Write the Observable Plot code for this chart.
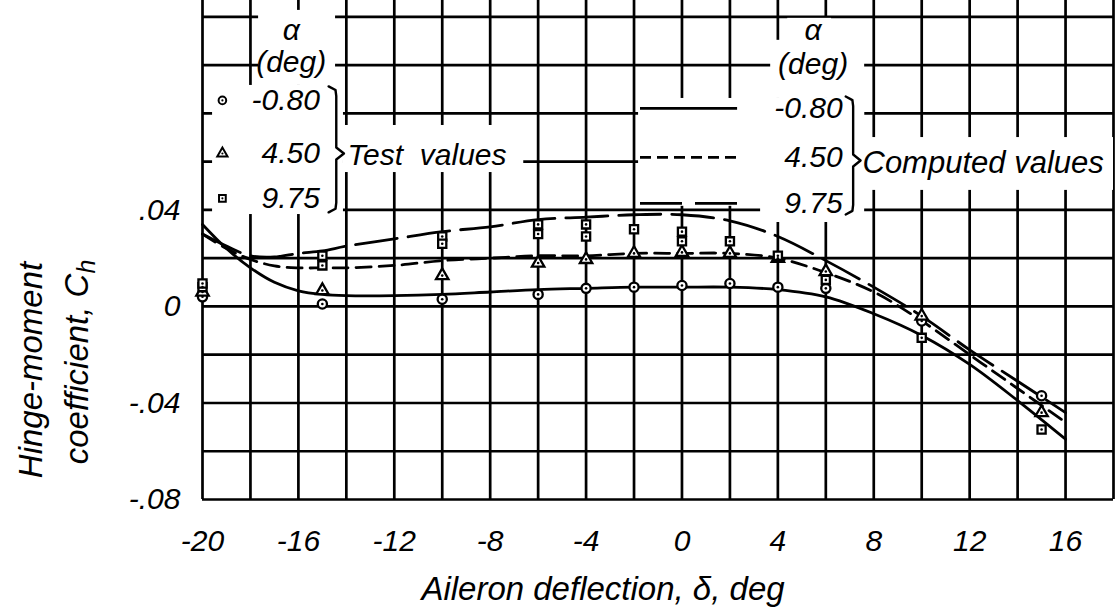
<!DOCTYPE html>
<html><head><meta charset="utf-8">
<script src="https://cdn.jsdelivr.net/npm/d3@7"></script>
<script src="https://cdn.jsdelivr.net/npm/@observablehq/plot@0.6"></script>
<style>
body{margin:0;background:#fff;}
#chart{width:1118px;height:612px;overflow:hidden;}
</style></head><body><div id="chart"></div>
<script>
// ---------- data ----------
const alphas = ["-0.80", "4.50", "9.75"];
const deltaTest = [-20, -15, -10, -6, -4, -2, 0, 2, 4, 6, 10, 15];
const testCircle   = [0.004, 0.001, 0.003, 0.005, 0.0075, 0.008, 0.0087, 0.0095, 0.008, 0.0075, -0.006, -0.037];
const testTriangle = [0.006, 0.0066, 0.0128, 0.018, 0.0195, 0.022, 0.0224, 0.022, 0.020, 0.0145, -0.004, -0.044];
const testSquare   = [0.008, 0.021, 0.029, 0.034, 0.034, 0.032, 0.031, 0.027, 0.021, 0.011, -0.013, -0.051];
const deltaSquareRepeat = [-20, -15, -10, -6, -4, 0];
const squareRepeat      = [0.0095, 0.017, 0.026, 0.030, 0.029, 0.027];

const deltaCurve = [-20, -19, -18, -17, -16, -15, -14, -12, -10, -8, -6, -4, -2, 0, 2, 4, 6, 8, 10, 12, 14, 16];
const curveM080 = [0.034, 0.024, 0.016, 0.010, 0.0065, 0.005, 0.0045, 0.0045, 0.005, 0.006, 0.007, 0.0075, 0.008, 0.008, 0.008, 0.007, 0.004, -0.003, -0.012, -0.024, -0.039, -0.055];
const curve450  = [0.030, 0.024, 0.0195, 0.0168, 0.016, 0.016, 0.016, 0.017, 0.019, 0.020, 0.021, 0.021, 0.022, 0.022, 0.022, 0.020, 0.014, 0.006, -0.006, -0.020, -0.034, -0.048];
const curve975  = [0.030, 0.025, 0.021, 0.0205, 0.022, 0.023, 0.025, 0.028, 0.031, 0.033, 0.036, 0.037, 0.038, 0.038, 0.0355, 0.029, 0.019, 0.008, -0.004, -0.018, -0.031, -0.044];

const xGrid = [-20, -18, -16, -14, -12, -10, -8, -6, -4, -2, 0, 2, 4, 6, 8, 10, 12, 14, 16, 18];
const yGrid = [-0.08, -0.06, -0.04, -0.02, 0, 0.02, 0.04, 0.06, 0.08, 0.10, 0.12];
const xTicks = [-20, -16, -12, -8, -4, 0, 4, 8, 12, 16];
const xTickLabels = ["-20", "-16", "-12", "-8", "-4", "0", "4", "8", "12", "16"];
const yTicks = [-0.08, -0.04, 0, 0.04];
const yTickLabels = ["-.08", "-.04", "0", ".04"];
const xTitle = "Aileron deflection, δ, deg";
const yTitleLines = ["Hinge-moment", "coefficient, C", "h"];
const legendHeader = ["α", "(deg)"];
const testLabel = "Test  values";
const computedLabel = "Computed values";

// ---------- tables built from the arrays ----------
const testRows = [];
deltaTest.forEach((d, i) => {
  testRows.push({d, c: testCircle[i], a: alphas[0]});
  testRows.push({d, c: testTriangle[i], a: alphas[1]});
  testRows.push({d, c: testSquare[i], a: alphas[2]});
});
deltaSquareRepeat.forEach((d, i) => testRows.push({d, c: squareRepeat[i], a: alphas[2]}));
const curveRows = (vals) => deltaCurve.map((d, i) => ({d, c: vals[i]}));

const FONT = "'Liberation Sans', 'DejaVu Sans', Arial, sans-serif";
const FS = 30;

// legend layout (data coordinates of the chart)
const legLeft = {mx: -19.17, labelX: -15.1, alphaX: -16.3, ys: [0.0854, 0.0634, 0.0448]};
const legRight = {x1: -1.73, x2: 2.32, labelX: 6.70, alphaX: 5.47, ys: [0.0821, 0.0618, 0.0427]};
const legendSymbolRows = alphas.map((a, i) => ({d: legLeft.mx, c: legLeft.ys[i], a}));

function bracket(x, top, bot, mid, tip) {
  const w = (tip - x);
  return [
    {d: x, c: top}, {d: x + w * 0.45, c: top - 0.0015}, {d: x + w * 0.5, c: top - 0.004},
    {d: x + w * 0.5, c: mid + 0.0025}, {d: tip, c: mid},
    {d: x + w * 0.5, c: mid - 0.0025}, {d: x + w * 0.5, c: bot + 0.004},
    {d: x + w * 0.45, c: bot + 0.0015}, {d: x, c: bot}
  ];
}

const patches = [
  {x1: -17.66, x2: -14.45, y1: 0.0916, y2: 0.1227},
  {x1: -19.58, x2: -14.12, y1: 0.0381, y2: 0.0916},
  {x1: -14.12, x2: -6.6, y1: 0.0555, y2: 0.0750},
  {x1: 4.41, x2: 6.24, y1: 0.1094, y2: 0.1194},
  {x1: 3.70, x2: 7.62, y1: 0.0862, y2: 0.1103},
  {x1: -1.81, x2: 7.62, y1: 0.0415, y2: 0.0862},
  {x1: 3.28, x2: 7.62, y1: 0.0348, y2: 0.0862},
  {x1: 7.53, x2: 18, y1: 0.0481, y2: 0.0700}
];

const gridStyle = {stroke: "black", strokeOpacity: 1, strokeWidth: 2.7};
const lineStyle = {x: "d", y: "c", stroke: "black", strokeWidth: 2.8, curve: "catmull-rom"};

const plot = Plot.plot({
  width: 1118, height: 612,
  marginLeft: 202, marginRight: 5, marginTop: 0, marginBottom: 113,
  x: {domain: [-20, 18]},
  y: {domain: [-0.08, 0.1268]},
  symbol: {domain: alphas, range: ["circle", "triangle", "square"]},
  style: {fontFamily: FONT, fontStyle: "italic", color: "black", background: "white"},
  marks: [
    Plot.gridX(xGrid, gridStyle),
    Plot.gridY(yGrid, gridStyle),
    Plot.rect(patches, {x1: "x1", x2: "x2", y1: "y1", y2: "y2", fill: "white"}),
    Plot.line(curveRows(curveM080), lineStyle),
    Plot.line(curveRows(curve450), {...lineStyle, strokeDasharray: "15,8"}),
    Plot.line(curveRows(curve975), {...lineStyle, strokeDasharray: "42,11"}),
    Plot.dot(testRows, {x: "d", y: "c", symbol: "a", r: 4.6, stroke: "black", strokeWidth: 2.3, fill: "white"}),
    Plot.dot(testRows, {x: "d", y: "c", r: 1.3, fill: "black"}),
    // left legend
    Plot.dot(legendSymbolRows, {x: "d", y: "c", symbol: "a", r: 3.8, stroke: "black", strokeWidth: 2, fill: "white"}),
    Plot.dot(legendSymbolRows, {x: "d", y: "c", r: 1.1, fill: "black"}),
    Plot.text(legendHeader, {x: legLeft.alphaX, y: (d, i) => [0.1144, 0.1011][i], text: d => d, fontSize: FS, fontStyle: "italic"}),
    Plot.text(alphas, {x: legLeft.labelX, y: (d, i) => legLeft.ys[i], text: d => d, textAnchor: "end", fontSize: FS, fontStyle: "italic"}),
    Plot.line(bracket(-14.74, 0.0912, 0.0390, 0.0634, -14.1), {x: "d", y: "c", stroke: "black", strokeWidth: 2.4}),
    Plot.text([testLabel], {x: -13.95, y: 0.0626, text: d => d, textAnchor: "start", fontSize: FS, fontStyle: "italic"}),
    // right legend
    Plot.ruleY([legRight.ys[0]], {x1: legRight.x1, x2: legRight.x2, stroke: "black", strokeWidth: 2.8}),
    Plot.ruleY([legRight.ys[1]], {x1: legRight.x1, x2: legRight.x2, stroke: "black", strokeWidth: 2.8, strokeDasharray: "11,6"}),
    Plot.ruleY([legRight.ys[2]], {x1: legRight.x1, x2: legRight.x2, stroke: "black", strokeWidth: 2.8, strokeDasharray: "42,13"}),
    Plot.text(legendHeader, {x: legRight.alphaX, y: (d, i) => [0.1144, 0.1003][i], text: d => d, fontSize: FS, fontStyle: "italic"}),
    Plot.text(alphas, {x: legRight.labelX, y: (d, i) => legRight.ys[i], text: d => d, textAnchor: "end", fontSize: FS, fontStyle: "italic"}),
    Plot.line(bracket(6.83, 0.0870, 0.0381, 0.0605, 7.45), {x: "d", y: "c", stroke: "black", strokeWidth: 2.4}),
    Plot.text([computedLabel], {x: 7.53, y: 0.0593, text: d => d, textAnchor: "start", fontSize: 31, fontStyle: "italic"}),
    // axes
    Plot.axisX(xTicks, {tickSize: 0, tickPadding: 30, fontSize: FS, fontStyle: "italic", tickFormat: (d, i) => xTickLabels[i], label: null}),
    Plot.axisY(yTicks, {tickSize: 0, tickPadding: 22, fontSize: FS, fontStyle: "italic", tickFormat: (d, i) => yTickLabels[i], label: null})
  ]
});

const svg = d3.select(plot);
const g = svg.append("g").attr("font-family", FONT).attr("font-style", "italic").attr("font-size", 33).attr("fill", "black");
g.append("text").attr("x", 603).attr("y", 600).attr("text-anchor", "middle").text(xTitle);
g.append("text").attr("transform", "translate(42,370) rotate(-90)").attr("text-anchor", "middle").text(yTitleLines[0]);
const t2 = g.append("text").attr("transform", "translate(88,362) rotate(-90)").attr("text-anchor", "middle");
t2.append("tspan").text(yTitleLines[1]);
t2.append("tspan").attr("dy", 7).attr("font-size", 25).text(yTitleLines[2]);

document.getElementById("chart").appendChild(plot);
</script>
</body></html>
